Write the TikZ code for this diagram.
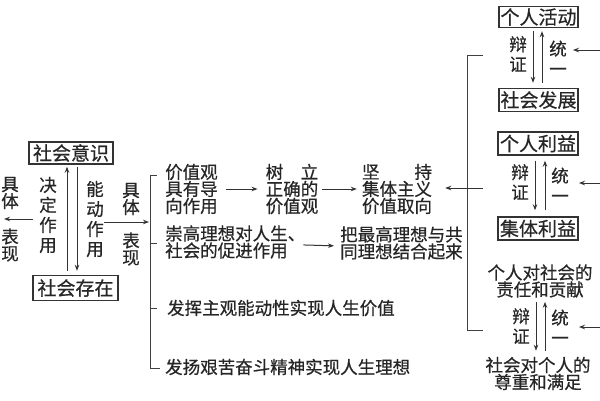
\documentclass[tikz,border=0pt]{standalone}
\usepackage{fontspec}
\setmainfont{Noto Sans CJK SC}[FakeBold=0.6]
\usetikzlibrary{arrows.meta,calc}
\begin{document}
\begin{tikzpicture}[x=1pt,y=-1pt,
  txt/.style={inner sep=0pt, text=black!85, font=\fontsize{17.5}{17}\selectfont},
  vtxt/.style={inner sep=0pt, text=black!85, align=center, font=\fontsize{17.5}{20}\selectfont},
  vtxts/.style={inner sep=0pt, text=black!85, align=center, font=\fontsize{17.5}{17}\selectfont},
  box/.style={draw=black!80, line width=1.4pt, inner sep=0pt, text=black!85, font=\fontsize{19}{19}\selectfont, minimum height=22pt},
  arr/.style={draw=black!80, -{Stealth[length=6pt,width=4.5pt]}, line width=1pt},
  ln/.style={draw=black!75, line width=1pt}]
\useasboundingbox (0,0) rectangle (600,400);

% ---- left part
\node[box, minimum width=84pt] (yishi) at (71,153) {社会意识};
\node[box, minimum width=85pt, minimum height=25pt] (cunzai) at (75.5,288) {社会存在};
\coordinate (xu) at (67,0);
\coordinate (xd) at (77,0);
\draw[arr, shorten <=4pt, shorten >=2pt] (cunzai.north -| xu) -- (yishi.south -| xu);
\draw[arr, shorten <=2pt, shorten >=4pt] (yishi.south -| xd) -- (cunzai.north -| xd);
\node[vtxt] (jueding) at (48,215) {决\\定\\作\\用};
\node[vtxt] (nengdong) at (95,219) {能\\动\\作\\用};
\node[vtxts] (jtL) at (10,193) {具\\体};
\node[vtxts] (bxL) at (10,245) {表\\现};
\node[vtxts] (jtR) at (131,199) {具\\体};
\node[vtxts] (bxR) at (131,249) {表\\现};
\coordinate (la0) at (33,219);
\coordinate (la1) at (4,219);
\draw[arr] (la0) -- (la1);

% ---- left bracket
\coordinate (lbT) at (150,175);
\coordinate (lbB) at (150,368);
\coordinate (lbIn) at (150,222);
\coordinate (ra0) at (104,222);
\draw[arr, shorten >=1pt] (ra0) -- (lbIn);
\draw[ln] (157,175) -- (lbT) -- (lbB) -- (160,368);
\draw[ln] (150,243) -- (157,243);
\draw[ln] (150,308) -- (157,308);

% ---- middle texts
\node[txt, align=left, anchor=west] (jzg) at (165,189) {价值观\\具有导\\向作用};
\node[txt, align=center] (sl) at (292,189) {树\hspace{1em}立\\正确的\\价值观};
\node[txt, align=center] (jc) at (397,189) {坚\hspace{2em}持\\集体主义\\价值取向};
\draw[arr, shorten <=8pt, shorten >=8pt] (jzg.east) -- (sl.west);
\draw[arr, shorten <=4pt, shorten >=5pt] (sl.east) -- (jc.west);
\node[txt, align=left, anchor=west] (cg) at (165,242) {崇高理想对人生、\\社会的促进作用};
\node[txt, align=left, anchor=west] (bzl) at (340,243) {把最高理想与共\\同理想结合起来};
\draw[arr, shorten <=-2pt, shorten >=6pt] ([yshift=-3pt]cg.east) -- ([yshift=-3pt]bzl.west);
\node[txt, anchor=west] (fh) at (167,308) {发挥主观能动性实现人生价值};
\node[txt, anchor=west] (fy) at (165,367) {发扬艰苦奋斗精神实现人生理想};

% ---- right bracket
\coordinate (rbT) at (467,55);
\coordinate (rbB) at (467,330);
\coordinate (rbIn) at (483,188);
\draw[ln] (483,55) -- (rbT) -- (rbB) -- (483,330);
\draw[arr, shorten >=13pt] (rbIn) -- (jc.east |- rbIn);

% ---- right column
\node[box, minimum width=79pt, minimum height=21pt] (hd) at (538.5,17) {个人活动};
\node[box, minimum width=79pt, minimum height=23pt] (fz) at (538.5,100) {社会发展};
\node[box, minimum width=80pt, minimum height=23pt] (ly) at (538,143.5) {个人利益};
\node[box, minimum width=80pt, minimum height=23pt] (jt) at (538,228.5) {集体利益};
\node[txt, align=center] (zr) at (540,281) {个人对社会的\\责任和贡献};
\node[txt, align=center] (zz) at (538,373.5) {社会对个人的\\尊重和满足};

\coordinate (d1) at (533,0); \coordinate (u1) at (542,0);
\draw[arr, shorten <=3pt, shorten >=5pt] (hd.south -| d1) -- (fz.north -| d1);
\draw[arr, shorten <=5pt, shorten >=3pt] (fz.north -| u1) -- (hd.south -| u1);
\node[vtxt] (bz1) at (518,54) {辩\\证};
\node[vtxt] (ty1) at (558,58) {统\\一};
\coordinate (r1) at (601,50);
\draw[arr, shorten >=6pt] (r1) -- (ty1.east |- r1);

\coordinate (d2) at (535,0); \coordinate (u2) at (545,0);
\draw[arr, shorten <=5pt, shorten >=6pt] (ly.south -| d2) -- (jt.north -| d2);
\draw[arr, shorten <=6pt, shorten >=5pt] (jt.north -| u2) -- (ly.south -| u2);
\node[vtxt] (bz2) at (520,182) {辩\\证};
\node[vtxt] (ty2) at (560,185) {统\\一};
\coordinate (r2) at (601,183);
\draw[arr, shorten >=10pt] (r2) -- (ty2.east |- r2);

\coordinate (d3) at (536,0); \coordinate (u3) at (545,0);
\draw[arr, shorten <=4pt, shorten >=6pt] (zr.south -| d3) -- (zz.north -| d3);
\draw[arr, shorten <=6pt, shorten >=4pt] (zz.north -| u3) -- (zr.south -| u3);
\node[vtxt] (bz3) at (521,326) {辩\\证};
\node[vtxt] (ty3) at (560,327) {统\\一};
\coordinate (r3) at (601,327);
\draw[arr, shorten >=10pt] (r3) -- (ty3.east |- r3);
\end{tikzpicture}
\end{document}
